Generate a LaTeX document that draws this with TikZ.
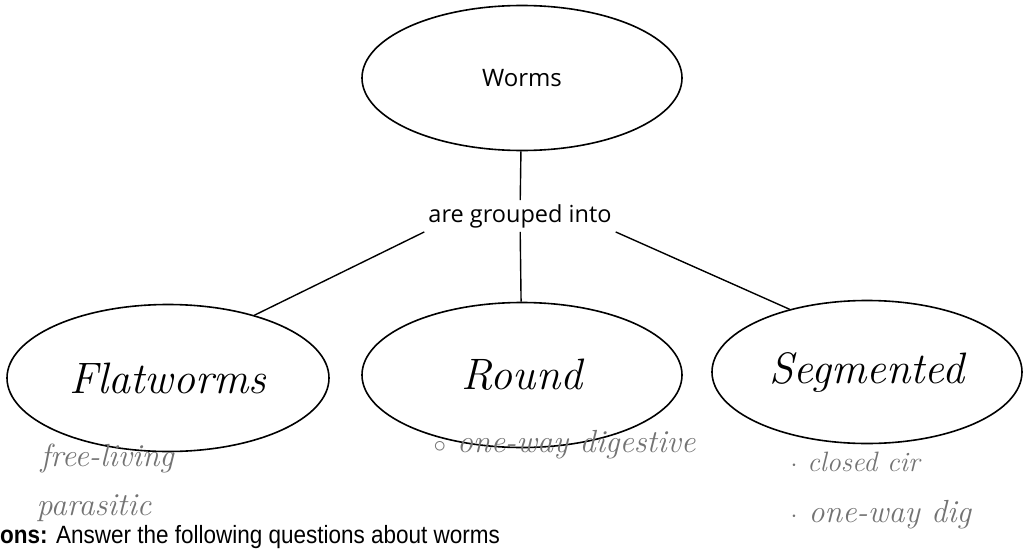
\documentclass[tikz,border=0pt]{standalone}
\usepackage{fontspec}
\newfontfamily\labelfont{Open Sans}
\newfontfamily\taskfont[FakeStretch=0.9]{Liberation Sans}
\usetikzlibrary{shapes.geometric}

\begin{document}
\begin{tikzpicture}[x=1pt, y=-1pt,
  oval/.style={ellipse, draw, line width=1.6pt, minimum width=320pt, minimum height=145pt},
  hand/.style={font=\fontsize{44}{44}\selectfont\itshape},
  note/.style={anchor=west, text=black!55, font=\fontsize{32}{32}\selectfont\itshape},
  link/.style={line width=1.4pt}]
  \useasboundingbox (0,0) rectangle (1026,554);

  \node[oval, font=\labelfont\fontsize{24}{24}\selectfont] (worms) at (522,78) {Worms};
  \node[font=\labelfont\fontsize{23.5}{23.5}\selectfont, inner sep=4pt] (grouped) at (520,216) {are grouped into};

  \node[oval, hand, minimum width=322pt, minimum height=147pt] (flat) at (168,378) {Flatworms};
  \node[oval, hand] (round) at (522,375) {Round};
  \node[oval, hand, minimum width=310pt, minimum height=143pt] (seg) at (867,372) {Segmented};

  \draw[link] (worms) -- (grouped);
  \draw[link] (grouped.south west) -- (flat.36);
  \draw[link] (grouped) -- (round);
  \draw[link] (grouped.south east) -- (seg.141);

  \node[note] (free) at (37,458) {free-living};
  \node[note] (para) at (33,508) {parasitic};
  \node[note] (digest) at (430,445) {$\circ$ one-way digestive};
  \node[note, font=\fontsize{28}{28}\selectfont\itshape] (closed) at (787,462) {$\cdot$ closed cir};
  \node[note] (oneway) at (787,515) {$\cdot$ one-way dig};

  \node[anchor=base west, inner sep=0pt, font=\taskfont\fontsize{25}{25}\selectfont] (task) at (0,543) {\textbf{ons:} Answer the following questions about worms};
\end{tikzpicture}
\end{document}
